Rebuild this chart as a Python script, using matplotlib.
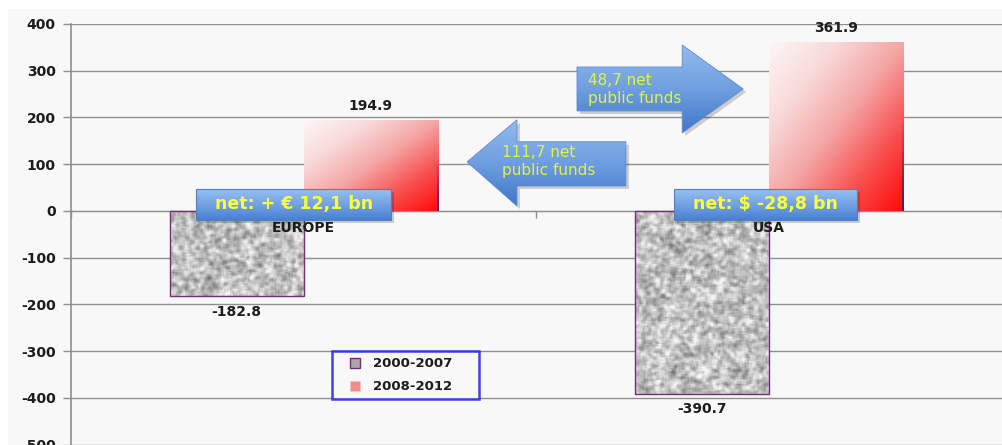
import matplotlib
matplotlib.use("Agg")
import matplotlib.pyplot as plt
from matplotlib.patches import Polygon, Rectangle
from matplotlib.lines import Line2D
from matplotlib.collections import LineCollection
from matplotlib.colors import LinearSegmentedColormap, to_rgba
from matplotlib.transforms import offset_copy
import numpy as np

plt.rcParams.update({
    "font.family": "DejaVu Sans",
    "axes.unicode_minus": False,
})

# ── Data ──────────────────────────────────────────────────────
regions = ["EUROPE", "USA"]
periods = ["2000-2007", "2008-2012"]
flows_2000_2007 = [-182.8, -390.7]
flows_2008_2012 = [194.9, 361.9]
net_labels = ["net: + € 12,1 bn", "net: $ -28,8 bn"]
funds_labels = ["111,7 net\npublic funds", "48,7 net\npublic funds"]
y_ticks = [-500, -400, -300, -200, -100, 0, 100, 200, 300, 400]

BAR_W = 0.288
BG = "#f8f8f8"
GRID = "#8e8e8e"
TXT = "#1c1c1c"
YELLOW_BOX = "#ffff3a"
YELLOW_ARROW = "#e2f245"


def blur(a, r=1):
    """Cheap box blur by averaging shifted copies."""
    out = np.zeros_like(a)
    n = 0
    for dy in range(-r, r + 1):
        for dx in range(-r, r + 1):
            out += np.roll(np.roll(a, dy, 0), dx, 1)
            n += 1
    return out / n


def granite(h, w, seed):
    rng = np.random.default_rng(seed)
    fine = blur(rng.normal(size=(h, w)), 1)
    coarse = blur(rng.normal(size=(h, w)), 2)
    tex = 0.85 * fine / fine.std() + 0.4 * coarse / coarse.std()
    return np.clip(0.75 + 0.10 * tex, 0.35, 0.97)


def clipped_image(ax, patch, img, cmap, zorder, vmin=0, vmax=1):
    if isinstance(patch, Polygon):
        v = patch.get_xy()
        ext = (v[:, 0].min(), v[:, 0].max(), v[:, 1].min(), v[:, 1].max())
    else:
        x0, y0 = patch.get_xy()
        xs = (x0, x0 + patch.get_width())
        ys = (y0, y0 + patch.get_height())
        ext = (min(xs), max(xs), min(ys), max(ys))
    im = ax.imshow(img, cmap=cmap, extent=ext, aspect="auto", origin="upper",
                   interpolation="bilinear", zorder=zorder, vmin=vmin, vmax=vmax)
    im.set_clip_path(patch)
    return im


def vgrad(n=64):
    return np.linspace(0, 1, n).reshape(-1, 1)


def shadow(ax, fig, patch_cls, *args, zorder=5, **kw):
    tr = offset_copy(ax.transData, fig=fig, x=3, y=-3, units="dots")
    p = patch_cls(*args, facecolor="#000000", alpha=0.18, edgecolor="none",
                  transform=tr, zorder=zorder, **kw)
    ax.add_patch(p)


fig = plt.figure(figsize=(10.03, 4.45), dpi=100)
fig.patch.set_facecolor("white")
fig.patches.append(Rectangle((8 / 1003, 0), 1, 1 - 9 / 445,
                             transform=fig.transFigure, facecolor=BG,
                             edgecolor="none", zorder=-10))

ax = fig.add_axes([71 / 1003, 0.0006, 931 / 1003, 0.9455])
ax.set_facecolor("none")
ax.set_axisbelow(True)

x = np.arange(len(regions))
bars_old = ax.bar(x - BAR_W / 2, flows_2000_2007, BAR_W, color="none",
                  edgecolor="#7a2a78", linewidth=1.0, zorder=3)
bars_new = ax.bar(x + BAR_W / 2, flows_2008_2012, BAR_W, color="none",
                  edgecolor="none", zorder=3)

# granite texture for 2000-2007
for i, b in enumerate(bars_old):
    tex = granite(int(abs(b.get_height()) * 0.32) + 3, 90, seed=11 + i)
    clipped_image(ax, b, tex, "gray", zorder=2)

# diagonal white -> red gradient for 2008-2012
red_cmap = LinearSegmentedColormap.from_list(
    "wr", ["#fdf6f6", "#f9dada", "#f4a6a6", "#f85050", "#ff0a0a"])
for b in bars_new:
    h = int(b.get_height() * 0.47) + 4
    u = np.linspace(0, 1, 134)[None, :]
    v = np.linspace(1, 0, h)[:, None]
    t = (u + (1 - v)) / 2
    clipped_image(ax, b, t, red_cmap, zorder=2)
    # navy border on the saturated bottom-right side
    xr = b.get_x() + b.get_width()
    ys = np.linspace(0, b.get_height(), 30)
    segs = [[(xr, ys[k]), (xr, ys[k + 1])] for k in range(len(ys) - 1)]
    cols = [to_rgba("#24206e", max(0.0, 0.9 - 1.6 * ys[k] / b.get_height()))
            for k in range(len(ys) - 1)]
    ax.add_collection(LineCollection(segs, colors=cols, linewidths=1.2, zorder=3))

# value labels
for b, val in zip(bars_old, flows_2000_2007):
    ax.annotate(f"{val:.1f}", (b.get_x() + b.get_width() / 2, val),
                xytext=(0, -6), textcoords="offset points", ha="center",
                va="top", fontsize=10, fontweight="bold", color=TXT, zorder=4)
for b, val in zip(bars_new, flows_2008_2012):
    ax.annotate(f"{val:.1f}", (b.get_x() + b.get_width() / 2, val),
                xytext=(0, 5), textcoords="offset points", ha="center",
                va="bottom", fontsize=10, fontweight="bold", color=TXT, zorder=4)

# category names sit on the zero line
for xi, name in zip(x, regions):
    ax.annotate(name, (xi, 0), xytext=(0, -7), textcoords="offset points",
                ha="center", va="top", fontsize=10, fontweight="bold",
                color=TXT, zorder=4)

# axes styling
ax.set_xlim(-0.5, len(regions) - 0.5)
ax.set_ylim(y_ticks[0], y_ticks[-1])
ax.set_yticks(y_ticks)
ax.set_yticklabels([str(t) for t in y_ticks])
ax.yaxis.grid(True, color=GRID, linewidth=1.0)
ax.tick_params(axis="y", direction="out", length=6, width=1, color=GRID,
               labelsize=10, labelcolor=TXT, pad=5)
for lab in ax.get_yticklabels():
    lab.set_fontweight("bold")
ax.spines["left"].set_color(GRID)
ax.spines["left"].set_linewidth(1.2)
for s in ("top", "right"):
    ax.spines[s].set_visible(False)
ax.spines["bottom"].set_position(("data", 0))
ax.spines["bottom"].set_color(GRID)
ax.set_xticks(np.arange(len(regions) + 1) - 0.5)
ax.set_xticklabels([])
ax.tick_params(axis="x", direction="out", length=5, width=1, color=GRID)

# blue block arrows for net public funds
blue_cmap = LinearSegmentedColormap.from_list("bl", ["#92bbee", "#6f9fe0", "#3f77c9"])
arrow_left = np.array([(0.351, 105), (0.458, 195), (0.458, 148), (0.692, 148),
                       (0.692, 53.5), (0.458, 53.5), (0.458, 10.7)])
arrow_right = np.array([(0.587, 214), (0.587, 308), (0.813, 308), (0.813, 355),
                        (0.944, 261), (0.813, 167), (0.813, 214)])
for verts, label, tx, ty in [(arrow_left, funds_labels[0], 0.426, 106),
                             (arrow_right, funds_labels[1], 0.610, 259)]:
    shadow(ax, fig, Polygon, verts, closed=True, zorder=5)
    poly = Polygon(verts, closed=True, facecolor="none",
                   edgecolor="#5c8ad0", linewidth=0.6, zorder=6.5)
    ax.add_patch(poly)
    clipped_image(ax, poly, vgrad(), blue_cmap, zorder=6)
    ax.text(tx, ty, label, ha="left", va="center", fontsize=11,
            color=YELLOW_ARROW, linespacing=1.25, zorder=7)

# net balance boxes
net_boxes = [(-0.231, -19, 0.419, 66), (0.796, -19, 0.393, 66)]
box_cmap = LinearSegmentedColormap.from_list("bx", ["#97c0f2", "#72a2e2", "#4a80d0"])
for (bx, by, bw, bh), label in zip(net_boxes, net_labels):
    shadow(ax, fig, Rectangle, (bx, by), bw, bh, zorder=7)
    rect = Rectangle((bx, by), bw, bh, facecolor="none", edgecolor="#4f7fc8",
                     linewidth=0.8, zorder=8.5)
    ax.add_patch(rect)
    clipped_image(ax, rect, vgrad(), box_cmap, zorder=8)
    ax.text(bx + bw / 2, by + bh / 2, label, ha="center", va="center",
            fontsize=12.5, fontweight="bold", color=YELLOW_BOX, zorder=9)

# legend
handles = [Line2D([], [], linestyle="none", marker="s", markersize=7,
                  markerfacecolor="#a8a8a8", markeredgecolor="#7a2a78",
                  markeredgewidth=1.0),
           Line2D([], [], linestyle="none", marker="s", markersize=7,
                  markerfacecolor="#f28a8a", markeredgecolor="none")]
leg = ax.legend(handles, periods, loc="center",
                bbox_to_anchor=(0.280, 0.102, 0.158, 0.126), mode="expand",
                frameon=True, fancybox=False, handlelength=2.6,
                handletextpad=0.1, labelspacing=0.75,
                borderpad=0.45, borderaxespad=0,
                prop={"weight": "bold", "size": 9.5})
leg.get_frame().set_edgecolor("#1414e6")
leg.get_frame().set_linewidth(1.8)
leg.get_frame().set_facecolor(BG)
leg.set_zorder(5)
for t in leg.get_texts():
    t.set_color(TXT)

fig.savefig("out.png", dpi=100, facecolor=fig.get_facecolor())
